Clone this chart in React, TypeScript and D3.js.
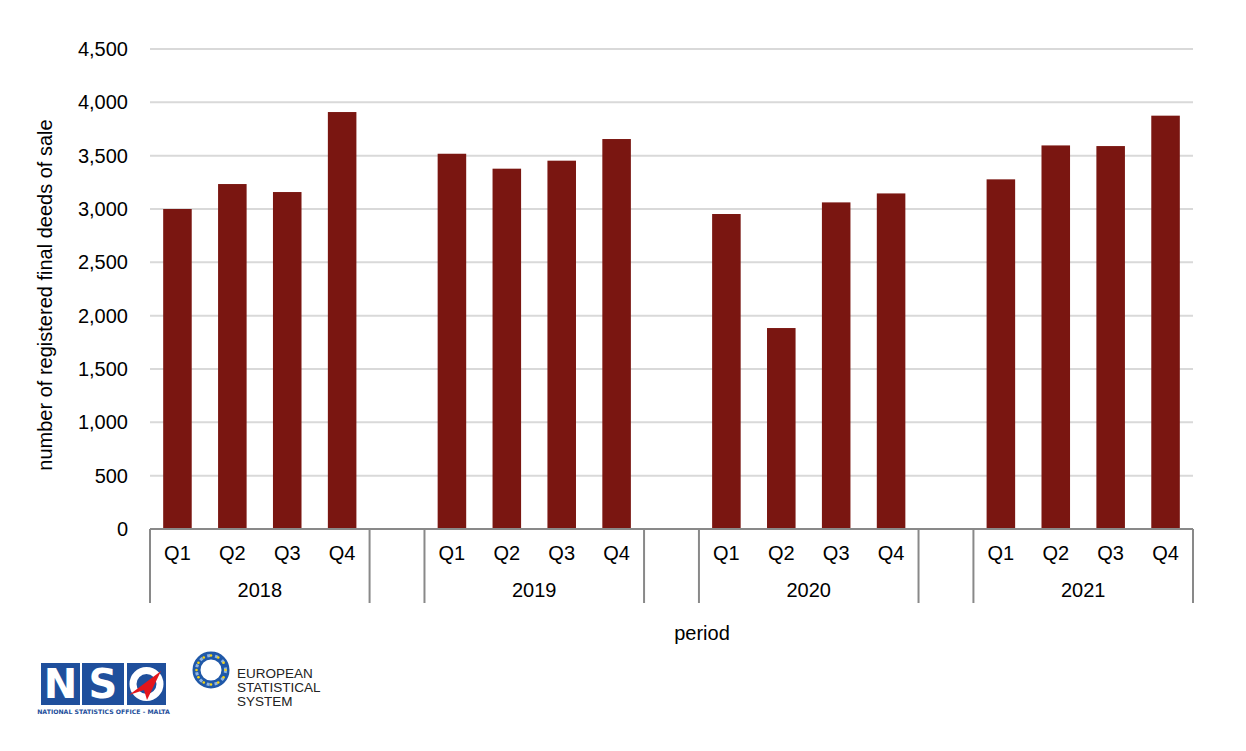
import React from "react";
import * as d3 from "d3";

// quarterly registered final deeds of sale
const years = ["2018", "2019", "2020", "2021"];
const quarters = ["Q1", "Q2", "Q3", "Q4"];
const deeds2018 = [3000, 3234, 3159, 3909];
const deeds2019 = [3518, 3378, 3453, 3656];
const deeds2020 = [2953, 1884, 3062, 3146];
const deeds2021 = [3278, 3596, 3590, 3875];
const yTicks = [0, 500, 1000, 1500, 2000, 2500, 3000, 3500, 4000, 4500];

const series = [deeds2018, deeds2019, deeds2020, deeds2021];

const W = 1246, H = 751;
const margin = { top: 49, right: 53, bottom: 222, left: 150 };
const BAR = "#7a1611";
const FONT = "'Liberation Sans', Arial, sans-serif";
const FS = 20;

export default function App() {
	const width = W - margin.left - margin.right;
	const height = H - margin.top - margin.bottom;

	// one slot per quarter, plus an empty slot between years
	let slots: string[] = [];
	years.forEach( ( yr, i ) => {
		quarters.forEach( q => slots.push( yr + " " + q ) );
		if ( i < years.length - 1 ) slots.push( "gap" + i );
	});

	const data = years.flatMap( ( yr, i ) =>
		quarters.map( ( q, j ) => ({ year: yr, q: q, key: yr + " " + q, value: series[ i ][ j ] }) ) );

	const x = d3.scaleBand().domain( slots ).range( [ 0, width ] ).padding( 0 );
	const y = d3.scaleLinear().domain( [ 0, 4500 ] ).range( [ height, 0 ] );
	const bw = x.bandwidth() * 0.52;
	const fmt = d3.format( "," );

	const groups = years.map( yr => {
		const x0 = x( yr + " Q1" ) as number;
		const x1 = ( x( yr + " Q4" ) as number ) + x.bandwidth();
		return { yr, x0, x1 };
	});

	return (
		<svg width={ W } height={ H } style={{ position: "absolute", left: 0, top: 0, background: "#fff" }} fontFamily={ FONT }>
			<g transform={ "translate(" + margin.left + "," + margin.top + ")" }>
				{ yTicks.map( t => (
					<g key={ t } transform={ "translate(0," + y( t ) + ")" }>
						{ t > 0 && <line x1={ 0 } x2={ width } stroke="#d9d9d9" strokeWidth={ 2 } /> }
						<text x={ -22 } dy="0.35em" textAnchor="end" fontSize={ FS } fill="#000">{ fmt( t ) }</text>
					</g>
				)) }

				{ data.map( d => (
					<rect key={ d.key } x={ ( x( d.key ) as number ) + ( x.bandwidth() - bw ) / 2 } y={ y( d.value ) }
						width={ bw } height={ height - y( d.value ) } fill={ BAR } />
				)) }

				<line x1={ 0 } x2={ width } y1={ height } y2={ height } stroke="#898989" strokeWidth={ 2 } />
				{ groups.map( g => (
					<g key={ g.yr }>
						<line x1={ g.x0 } x2={ g.x0 } y1={ height } y2={ height + 74 } stroke="#898989" strokeWidth={ 2 } />
						<line x1={ g.x1 } x2={ g.x1 } y1={ height } y2={ height + 74 } stroke="#898989" strokeWidth={ 2 } />
						<text x={ ( g.x0 + g.x1 ) / 2 } y={ height + 61 } dy="0.35em" textAnchor="middle" fontSize={ FS }>{ g.yr }</text>
					</g>
				)) }
				{ data.map( d => (
					<text key={ "l" + d.key } x={ ( x( d.key ) as number ) + x.bandwidth() / 2 } y={ height + 24 } dy="0.35em"
						textAnchor="middle" fontSize={ FS }>{ d.q }</text>
				)) }

				<text transform={ "translate(" + ( 45 - margin.left ) + "," + ( 295 - margin.top ) + ") rotate(-90)" } dy="0.35em"
					textAnchor="middle" fontSize={ FS }>number of registered final deeds of sale</text>
				<text x={ 702 - margin.left } y={ 633 - margin.top } dy="0.35em" textAnchor="middle" fontSize={ FS }>period</text>
			</g>

			{/* NSO logo */}
			<g>
				<rect x={ 41 } y={ 663 } width={ 39 } height={ 42 } fill="#1f4f9c" />
				<rect x={ 82 } y={ 663 } width={ 42 } height={ 42 } fill="#1f4f9c" />
				<rect x={ 127 } y={ 663 } width={ 39 } height={ 42 } fill="#1f4f9c" />
				<text x={ 60.5 } y={ 698 } textAnchor="middle" fontSize={ 40 } fontWeight="bold" fill="#fff" fontFamily="'DejaVu Sans', sans-serif">N</text>
				<text x={ 103 } y={ 698 } textAnchor="middle" fontSize={ 40 } fontWeight="bold" fill="#fff" fontFamily="'DejaVu Sans', sans-serif">S</text>
				<circle cx={ 146.5 } cy={ 684 } r={ 13.5 } fill="none" stroke="#fff" strokeWidth={ 7 } />
				<path d="M129,695 L161,671 L147,700 L144,690 Z" fill="#e3161c" />
				<text x={ 103.5 } y={ 714 } textAnchor="middle" fontSize={ 6.2 } fontWeight="bold" fill="#1f4f9c" fontFamily="'DejaVu Sans', sans-serif">NATIONAL STATISTICS OFFICE - MALTA</text>
			</g>

			{/* ESS logo */}
			<g>
				<circle cx={ 211 } cy={ 670 } r={ 14.5 } fill="none" stroke="#1f58a8" strokeWidth={ 8 } />
				<circle cx={ 211 } cy={ 670 } r={ 14.5 } fill="none" stroke="#8fb4e0" strokeWidth={ 3 } strokeDasharray="3 5" />
				{ d3.range( 12 ).map( i => {
					const a = i / 12 * Math.PI * 2;
					return <circle key={ i } cx={ 211 + Math.cos( a ) * 14.5 } cy={ 670 + Math.sin( a ) * 14.5 } r={ 1.3 } fill="#f5d415" />;
				}) }
				<text x={ 237 } y={ 678 } fontSize={ 13.5 } fill="#222">EUROPEAN</text>
				<text x={ 237 } y={ 692 } fontSize={ 13.5 } fill="#222">STATISTICAL</text>
				<text x={ 237 } y={ 706 } fontSize={ 13.5 } fill="#222">SYSTEM</text>
			</g>
		</svg>
	);
}
